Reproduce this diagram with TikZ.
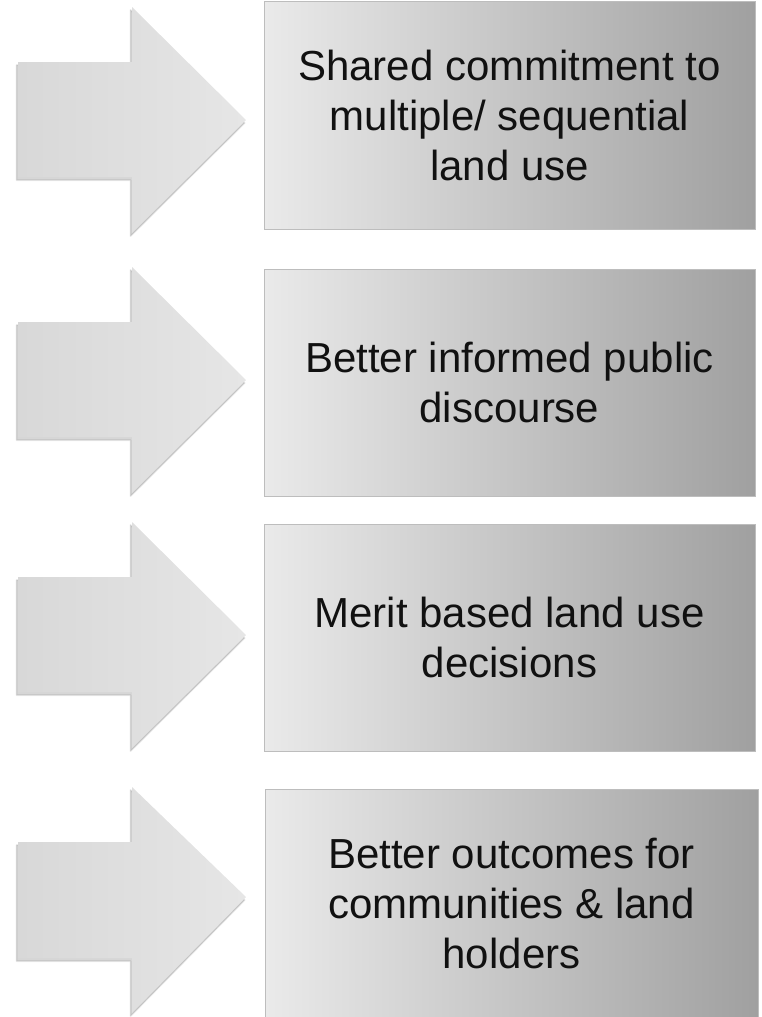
\documentclass[tikz,border=0pt]{standalone}
\usepackage{fontspec}
\setmainfont{Liberation Sans}
\definecolor{boxL}{HTML}{EAEAEA}
\definecolor{boxR}{HTML}{A0A0A0}
\definecolor{boxEdge}{HTML}{BDBDBD}
\definecolor{arrL}{HTML}{D8D8D8}
\definecolor{arrR}{HTML}{E6E6E6}
\definecolor{shd}{HTML}{808080}
\definecolor{txt}{HTML}{111111}
\tikzset{
  box/.style={draw=boxEdge, line width=0.8pt, left color=boxL, right color=boxR,
    align=center, inner sep=0pt, text=txt,
    font=\fontsize{42}{50}\selectfont},
  arrowshape/.style={draw=none, shading angle=60, left color=arrL, right color=arrR},
  arrowshadow/.style={fill=shd, draw=shd, line width=#1, line join=round, opacity=0.12}
}
\begin{document}
\begin{tikzpicture}[x=1pt,y=-1pt]
\useasboundingbox (0,0) rectangle (762,1017);
% arrows with soft shadows
\foreach \T/\B/\Ha/\C/\Hb/\n in {62/177/7/120/233/1, 322/437/267/380/493/2, 577/692/522/635/748/3, 842/958/787/897/1013/4}{
  \foreach \w in {2pt,1pt,0.2pt}{
    \path[arrowshadow=\w, shift={(-1.5,3)}] (18,\T) -- (132,\T) -- (132,\Ha) -- (246,\C) -- (132,\Hb) -- (132,\B) -- (18,\B) -- cycle;
  }
  \path[arrowshape] (18,\T) -- (132,\T) -- (132,\Ha) -- (246,\C) -- (132,\Hb) -- (132,\B) -- (18,\B) -- cycle;
}
% boxes
\node[box, minimum width=491pt, minimum height=228pt] (b1) at (509.5,115)
  {Shared commitment to\\multiple/ sequential\\land use};
\node[box, minimum width=491pt, minimum height=227pt] (b2) at (509.5,382.5)
  {Better informed public\\discourse};
\node[box, minimum width=491pt, minimum height=227pt] (b3) at (509.5,637.5)
  {Merit based land use\\decisions};
\node[box, minimum width=493pt, minimum height=228pt] (b4) at (511.5,903)
  {Better outcomes for\\communities \& land\\holders};
\end{tikzpicture}
\end{document}
